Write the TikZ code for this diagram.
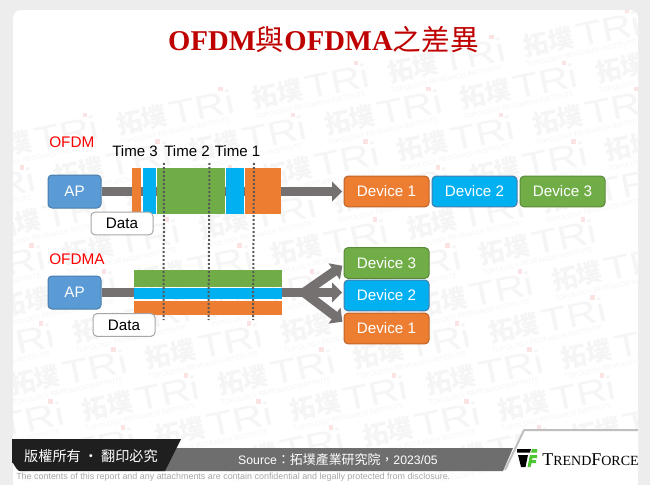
\documentclass[tikz,border=0pt]{standalone}
\usepackage{fontspec}
\setmainfont{Liberation Sans}
\newfontfamily\cjk{Noto Sans CJK TC}
\newfontfamily\timesbf[BoldFont=Liberation Serif Bold]{Liberation Serif}
\newcommand\setfs[1]{\fontsize{#1}{#1}\selectfont}
\usetikzlibrary{arrows.meta}
\definecolor{tiorange}{HTML}{ED7D31}
\definecolor{tiblue}{HTML}{00B0F0}
\definecolor{tigreen}{HTML}{70AD47}
\definecolor{apblue}{HTML}{5B9BD5}
\definecolor{pipegray}{HTML}{767171}
\definecolor{markgray}{HTML}{F5F5F5}
\definecolor{markpink}{HTML}{FCE3E3}
\begin{document}
\begin{tikzpicture}[x=0.75pt,y=-0.75pt,line join=round,
    box/.style={rounded corners=3pt,line width=0.75pt,minimum width=63.75pt,minimum height=23pt,inner sep=0pt,text=white,font=\setfs{11.4}},
    devorange/.style={box,fill=tiorange,draw=tiorange!80!black},
    devblue/.style={box,fill=tiblue,draw=apblue!80!black},
    devgreen/.style={box,fill=tigreen,draw=tigreen!80!black},
    apbox/.style={box,fill=apblue,draw=apblue!80!black,minimum width=39.75pt,minimum height=24.75pt},
    databox/.style={box,fill=white,draw=black!35,text=black,minimum width=46.5pt,minimum height=17pt},
    pipe/.style={draw=pipegray,line width=7pt},
    fatarrow/.style={pipe,-{Triangle[length=7.5pt,width=14.5pt]},shorten >=1pt},
    timeline/.style={draw=black!65,line width=1.5pt,dash pattern=on 1.5pt off 1.5pt},
    timelabel/.style={font=\setfs{11.3},inner sep=0pt},
    redlabel/.style={font=\setfs{11.5},text=red,inner sep=0pt,anchor=west}]
    \useasboundingbox (0,0) rectangle (650,485);
    \fill[black!7] (0,0) rectangle (650,485);
    \begin{scope}
        \clip[rounded corners=6pt] (13,10) rectangle (638,490);
        \fill[white] (13,10) rectangle (638,490);
        % watermark
        \foreach \i in {-6,...,6}
        \foreach \j in {-4,...,8}{
            \pgfmathsetmacro{\mx}{35+72.5*\i+135.5*\j}
            \pgfmathsetmacro{\my}{380+26*\i-26*\j}
            \pgfmathtruncatemacro{\inside}{and(and(\mx>-90,\mx<640),and(\my>0,\my<475))}
            \ifnum\inside=1
            \node[rotate=12,text=markgray,font=\cjk\bfseries\setfs{19}] (mark\i\j) at (\mx,\my) {拓墣};
            \node[rotate=12,text=markgray,font=\setfs{25}] at (\mx+60,\my-13) {\scalebox{1.25}[1]{TRi}};
            \node[rotate=12,text=markgray,font=\setfs{5}] at (\mx+33,\my+11) {TOPOLOGY RESEARCH INSTITUTE};
            \fill[markpink] (\mx+76,\my-33) rectangle +(4.5,4.5);
            \fi
        }
    \end{scope}
    % title
    \node[text=red!75!black,inner sep=0pt,font=\setfs{21.5}] (title) at (323.5,40) {{\timesbf\bfseries OFDM}{\cjk 與}{\timesbf\bfseries OFDMA}{\cjk 之差異}};
    % OFDM
    \node[redlabel] (ofdm) at (49,142) {OFDM};
    \node[timelabel] (time3) at (135,151) {Time 3};
    \node[timelabel] (time2) at (187,151) {Time 2};
    \node[timelabel] (time1) at (237.5,151) {Time 1};
    \node[apbox] (apa) at (74.5,191.5) {AP};
    \node[devorange] (deva1) at (386.5,191.5) {Device 1};
    \node[devblue] (deva2) at (474.5,191.5) {Device 2};
    \node[devgreen] (deva3) at (562.5,191.5) {Device 3};
    \draw[fatarrow] (apa) -- (deva1);
    \foreach \xa/\xb/\col in {132/141/tiorange,143/156/tiblue,157/225/tigreen,226/244/tiblue,245/281/tiorange}
    \fill[\col] (\xa,168) rectangle (\xb,214);
    \node[databox] (dataa) at (122,223.5) {Data};
    % OFDMA
    \node[redlabel] (ofdma) at (49,259) {OFDMA};
    \node[apbox] (apb) at (74.5,292.5) {AP};
    \node[devgreen] (devb3) at (386.5,263) {Device 3};
    \node[devblue] (devb2) at (386.5,295.5) {Device 2};
    \node[devorange] (devb1) at (386.5,328.5) {Device 1};
    \coordinate (fork) at (304,292.5);
    \draw[pipe] (apb) -- (fork);
    \draw[fatarrow] (fork) -- (fork -| devb2.west);
    \draw[fatarrow] (fork) -- ([yshift=-1.5pt]devb3.west);
    \draw[fatarrow] (fork) -- ([yshift=4.5pt]devb1.west);
    \fill[tigreen] (134,270) rectangle (282,287);
    \fill[tiblue] (134,288) rectangle (282,299);
    \fill[tiorange] (134,301) rectangle (282,315);
    \node[databox] (datab) at (124,325) {Data};
    % time lines
    \foreach \n/\xa/\xb in {3/164/163.5,2/209.5/208.5,1/254/253}{
        \coordinate (top\n) at (\xa,163);
        \coordinate (bot\n) at (\xb,320);
        \draw[timeline] (top\n) -- (bot\n);
    }
    % footer
    \fill[white] (505,471) -- (524,430) -- (638,430) -- (638,471) -- cycle;
    \draw[black!25,line width=1.5pt] (505,470) -- (524,430) -- (638,430);
    \fill[black!57] (150,448) -- (513,448) -- (503,471) -- (150,471) -- cycle;
    \fill[black!88] (12,439) -- (181,439) -- (165,471) -- (20,471) to[out=180,in=90] (12,463) -- cycle;
    \node[text=white,inner sep=0pt,font=\cjk\setfs{10.6}] (copy) at (91,456) {版權所有 ‧ 翻印必究};
    \node[text=white,inner sep=0pt,font=\setfs{9.2}] (source) at (338,460) {Source{\cjk\setfs{9.7}：拓墣產業研究院，}2023/05};
    \node[text=black!35,inner sep=0pt,anchor=west,font=\setfs{6.7}] (legal) at (16,477.5) {The contents of this report and any attachments are contain confidential and legally protected from disclosure.};
    % logo
    \fill[black] (517,449) -- (531,449) -- (530,452.5) -- (517,452.5) -- cycle;
    \fill[black] (518,455) -- (528,455) -- (525.5,467) -- (521,467) -- cycle;
    \fill[tigreen!70!green] (532,449) -- (537,449) -- (537,452.5) -- (531,452.5) -- cycle;
    \fill[tigreen!70!green] (530,455) -- (537,455) -- (537,458) -- (532.5,458) -- (532,460) -- (536,460) -- (536,463) -- (531.5,463) -- (530.5,467) -- (527.5,467) -- cycle;
    \node[inner sep=0pt,anchor=west,font=\timesbf] (brand) at (542,460) {\setfs{13.5}T\setfs{10.5}REND\setfs{13.5}F\setfs{10.5}ORCE};
\end{tikzpicture}
\end{document}
